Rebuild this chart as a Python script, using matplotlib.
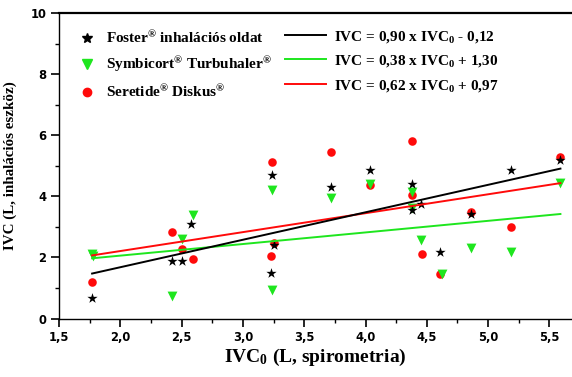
import numpy as np
import matplotlib
matplotlib.use('Agg')
import matplotlib.pyplot as plt
from matplotlib.ticker import MultipleLocator, FixedLocator
from matplotlib.lines import Line2D

plt.rcParams['mathtext.default'] = 'regular'

# data (IVC0 spirometry vs IVC inhaler device)
foster_x = [1.77, 2.42, 2.50, 2.58, 3.23, 3.24, 3.25, 3.72, 4.04, 4.38, 4.38, 4.45, 4.61, 4.86, 5.19, 5.59]
foster_y = [0.66, 1.90, 1.90, 3.10, 1.48, 4.70, 2.42, 4.31, 4.87, 4.40, 3.56, 3.76, 2.17, 3.42, 4.87, 5.20]

symb_x = [1.77, 1.78, 2.42, 2.50, 2.59, 3.24, 3.24, 3.72, 4.04, 4.38, 4.38, 4.45, 4.62, 4.86, 5.19, 5.59]
symb_y = [2.12, 2.04, 0.74, 2.60, 3.39, 4.21, 0.95, 3.94, 4.40, 4.13, 3.62, 2.57, 1.46, 2.32, 2.17, 4.45]

seret_x = [1.77, 2.42, 2.50, 2.59, 3.23, 3.24, 3.25, 3.72, 4.04, 4.38, 4.38, 4.46, 4.61, 4.86, 5.19, 5.59]
seret_y = [1.21, 2.85, 2.27, 1.95, 2.06, 5.12, 2.46, 5.44, 4.38, 5.83, 4.05, 2.11, 1.46, 3.50, 3.01, 5.28]

# fitted lines from the legend: slope, intercept
foster_fit = (0.90, -0.12)
symb_fit = (0.38, 1.30)
seret_fit = (0.62, 0.97)

labels_pts = ['Foster$^{®}$ inhalációs oldat', 'Symbicort$^{®}$ Turbuhaler$^{®}$', 'Seretide$^{®}$ Diskus$^{®}$']
labels_fit = ['IVC = 0,90 x IVC$_0$ - 0,12', 'IVC = 0,38 x IVC$_0$ + 1,30', 'IVC = 0,62 x IVC$_0$ + 0,97']
xtick_labels = ['1,5', '2,0', '2,5', '3,0', '3,5', '4,0', '4,5', '5,0', '5,5']

red = '#ff0a0a'
green = '#1ee61e'
black = '#000000'

fig = plt.figure(figsize=(5.72, 3.77), dpi=100)
ax = fig.add_axes([59/572, 58.5/377, 1 - 59/572, (318.5 - 13.3)/377])

ax.scatter(seret_x, seret_y, s=38, marker='o', color=red, linewidths=0, zorder=2)
ax.scatter(symb_x, symb_y, s=50, marker='v', color=green, linewidths=0, zorder=3)
ax.scatter(foster_x, foster_y, s=60, marker='*', color=black, linewidths=0, zorder=4)

def fit_line(xs, fit, col):
    xx = np.array([min(xs), max(xs)])
    ax.plot(xx, fit[0] * xx + fit[1], color=col, lw=1.4, zorder=5)

fit_line(symb_x, symb_fit, green)
fit_line(seret_x, seret_fit, red)
fit_line(foster_x, foster_fit, black)

ax.set_xlim(1.5, 1.5 + (572 - 59) / 122.6)
ax.set_ylim(0, 10)
ax.xaxis.set_major_locator(FixedLocator([1.5, 2.0, 2.5, 3.0, 3.5, 4.0, 4.5, 5.0, 5.5]))
ax.xaxis.set_minor_locator(MultipleLocator(0.25))
ax.set_xticklabels(xtick_labels)
ax.set_yticks([0, 2, 4, 6, 8, 10])
ax.set_yticklabels(['0', '2', '4', '6', '8', '10'])
ax.yaxis.set_minor_locator(MultipleLocator(1))
ax.tick_params(which='major', direction='out', length=6, width=1.2, pad=3)
ax.tick_params(which='minor', direction='out', length=3, width=1.0)
for t in ax.get_xticklabels() + ax.get_yticklabels():
    t.set_fontfamily('DejaVu Sans')
    t.set_fontweight('bold')
    t.set_fontsize(8.3)

ax.spines['right'].set_visible(False)
ax.spines['top'].set_linewidth(1.6)
ax.spines['left'].set_linewidth(1.0)
ax.spines['bottom'].set_linewidth(1.0)

serif = dict(family='Liberation Serif', weight='bold')
ax.set_xlabel('IVC$_0$ (L, spirometria)', fontsize=14, labelpad=2, **serif)
ax.set_ylabel('IVC (L, inhalációs eszköz)', fontsize=10.8, labelpad=10, **serif)

legprop = {'family': 'Liberation Serif', 'weight': 'bold', 'size': 11}
h_pts = [
    Line2D([], [], ls='none', marker='*', color=black, markersize=7.5),
    Line2D([], [], ls='none', marker='v', color=green, markersize=6.5),
    Line2D([], [], ls='none', marker='o', color=red, markersize=6),
]
h_fit = [
    Line2D([], [], color=black, lw=1.4),
    Line2D([], [], color=green, lw=1.4),
    Line2D([], [], color=red, lw=1.4),
]
leg1 = ax.legend(h_pts, labels_pts, frameon=False, loc='upper left',
                 bbox_to_anchor=((78 - 59) / 513, 0.95), borderpad=0, borderaxespad=0,
                 prop=legprop, handlelength=1.2, handletextpad=0.6, labelspacing=0.56)
ax.add_artist(leg1)
ax.legend(h_fit, labels_fit, frameon=False, loc='upper left',
          bbox_to_anchor=((285 - 59) / 513, 0.95), borderpad=0, borderaxespad=0,
          prop=legprop, handlelength=2.7, handletextpad=0.5, labelspacing=0.56)

fig.savefig('out.png', dpi=100)
